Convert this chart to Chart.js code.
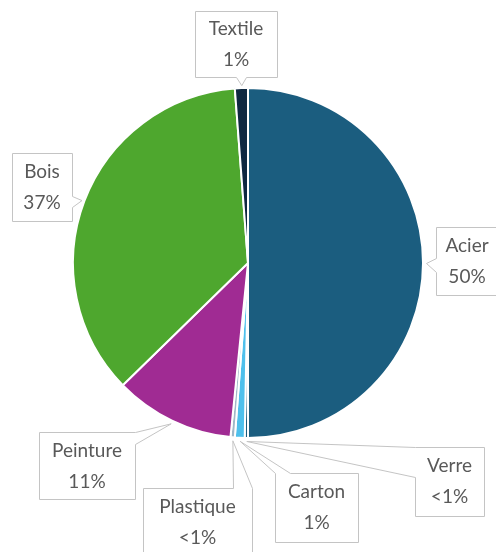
<!DOCTYPE html>
<html>
<head>
<meta charset="utf-8">
<script src="https://cdn.jsdelivr.net/npm/chart.js@4.4.1/dist/chart.umd.min.js"></script>
<style>
  html, body { margin: 0; padding: 0; background: #ffffff; }
  canvas { display: block; }
</style>
</head>
<body>
<canvas id="pie" width="496" height="552"></canvas>
<script>
// data, clockwise from 12 o'clock
var categories = ["Acier", "Verre", "Carton", "Plastique", "Peinture", "Bois", "Textile"];
var shares = [50, 0.3, 0.9, 0.4, 11.1, 36.1, 1.2];
var shareLabels = ["50%", "<1%", "1%", "<1%", "11%", "37%", "1%"];

var sliceColors = ["#1b5d7f", "#1b5d7f", "#4ec0ec", "#a0b8c8", "#a02b93", "#4ea72e", "#0e2841"];

// callout boxes: rect + which edge the pointer leaves from and its base range on that edge
var callouts = [
    { x: 436, y: 227, w: 62, h: 68, edge: "left",   from: 31, to: 45 },
    { x: 415, y: 447, w: 69, h: 69, edge: "left",   from: 0,  to: 30 },
    { x: 275, y: 473, w: 83, h: 69, edge: "top",    from: 0,  to: 15 },
    { x: 143, y: 488, w: 109, h: 80, edge: "top",   from: 90, to: 109 },
    { x: 39,  y: 432, w: 96, h: 67, edge: "right",  from: 0,  to: 12 },
    { x: 12,  y: 153, w: 60, h: 68, edge: "right",  from: 43, to: 54 },
    { x: 195, y: 11,  w: 82, h: 66, edge: "bottom", from: 41, to: 51 }
];

var calloutPlugin = {
    id: "callouts",
    afterDraw: function(chart) {
        var ctx = chart.ctx;
        var meta = chart.getDatasetMeta(0);
        ctx.save();
        meta.data.forEach(function(arc, i) {
            var p = arc.getProps(["x", "y", "startAngle", "endAngle", "outerRadius"], true);
            var mid = (p.startAngle + p.endAngle) / 2;
            var tx = p.x + Math.cos(mid) * (p.outerRadius + 3);
            var ty = p.y + Math.sin(mid) * (p.outerRadius + 3);
            var c = callouts[i];
            var L = c.x, T = c.y, R = c.x + c.w, B = c.y + c.h;

            // polygon clockwise with pointer inserted
            var pts = [];
            pts.push([L, T]);
            if (c.edge == "top") { pts.push([L + c.from, T], [tx, ty], [L + c.to, T]); }
            pts.push([R, T]);
            if (c.edge == "right") { pts.push([R, T + c.from], [tx, ty], [R, T + c.to]); }
            pts.push([R, B]);
            if (c.edge == "bottom") { pts.push([L + c.to, B], [tx, ty], [L + c.from, B]); }
            pts.push([L, B]);
            if (c.edge == "left") { pts.push([L, T + c.to], [tx, ty], [L, T + c.from]); }

            ctx.beginPath();
            ctx.moveTo(pts[0][0] + 0.5, pts[0][1] + 0.5);
            for (var k = 1; k < pts.length; k++) {
                ctx.lineTo(pts[k][0] + 0.5, pts[k][1] + 0.5);
            }
            ctx.closePath();
            ctx.fillStyle = "#ffffff";
            ctx.fill();
            ctx.strokeStyle = "#c4c4c4";
            ctx.lineWidth = 1;
            ctx.stroke();

            // text
            var bh = Math.min(c.h, 68);
            var cx = L + c.w / 2;
            var cy = T + bh / 2;
            ctx.fillStyle = "#595959";
            ctx.font = "19px Lato";
            ctx.textAlign = "center";
            ctx.textBaseline = "middle";
            ctx.fillText(categories[i], cx, cy - 15);
            ctx.fillText(shareLabels[i], cx, cy + 16);
        });
        ctx.restore();
    }
};

var ctx = document.getElementById("pie").getContext("2d");
var pieChart = new Chart(ctx, {
    type: "pie",
    data: {
        labels: categories,
        datasets: [{
            data: shares,
            backgroundColor: sliceColors,
            borderColor: "#ffffff",
            borderWidth: 2
        }]
    },
    options: {
        responsive: false,
        animation: false,
        layout: {
            padding: { left: 72, right: 72, top: 87, bottom: 113 }
        },
        plugins: {
            legend: { display: false },
            tooltip: { enabled: false }
        }
    },
    plugins: [calloutPlugin]
});
</script>
</body>
</html>
